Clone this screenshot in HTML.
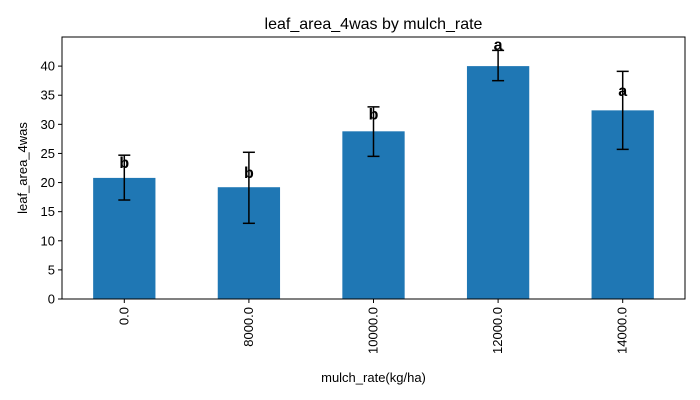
<!DOCTYPE html>
<html><head><meta charset="utf-8"><style>
body{margin:0;background:#fff;}
svg{display:block;font-family:"Liberation Sans","DejaVu Sans",sans-serif;}
</style></head><body>
<svg id="chart" width="700" height="400"></svg>
<script>
const categories=["0.0","8000.0","10000.0","12000.0","14000.0"];
const means=[20.8,19.2,28.8,40.0,32.4];
const errLow=[17.0,13.0,24.5,37.5,25.7];
const errHigh=[24.7,25.2,33.0,42.7,39.1];
const letters=["b","b","b","a","a"];
const letterPos=[23.5,21.8,31.9,43.8,35.9];
const yTicks=[0,5,10,15,20,25,30,35,40];
const L=62,R=685,T=37,B=299,yMax=45;
const NS="http://www.w3.org/2000/svg";
const svg=document.getElementById('chart');
const xs=i=>L+(i+0.5)*(R-L)/categories.length;
const ys=v=>B-v*(B-T)/yMax;
function mk(tag,attrs,text){const e=document.createElementNS(NS,tag);for(const k in attrs)e.setAttribute(k,attrs[k]);if(text!==undefined)e.textContent=text;svg.appendChild(e);return e;}
const bw=(R-L)/categories.length*0.5;
categories.forEach((c,i)=>{
 const b=mk('rect',{x:xs(i)-bw/2,y:ys(means[i]),width:bw,height:B-ys(means[i]),fill:'#1f77b4'});
 
 
 const g=mk('g',{stroke:'#000','stroke-width':1.5});
 
 
 [[xs(i),ys(errLow[i]),xs(i),ys(errHigh[i])],[xs(i)-6,ys(errLow[i]),xs(i)+6,ys(errLow[i])],[xs(i)-6,ys(errHigh[i]),xs(i)+6,ys(errHigh[i])]].forEach(p=>{
  const l=document.createElementNS(NS,'line');l.setAttribute('x1',p[0]);l.setAttribute('y1',p[1]);l.setAttribute('x2',p[2]);l.setAttribute('y2',p[3]);g.appendChild(l);});
 const t=mk('text',{x:xs(i),y:ys(letterPos[i])+6,'text-anchor':'middle','font-size':16,'font-weight':'bold'},letters[i]);
 
 
 mk('line',{x1:xs(i),y1:B,x2:xs(i),y2:B+4,stroke:'#000'});
 const xl=mk('text',{transform:`translate(${xs(i)+4},${B+8}) rotate(-90)`,'text-anchor':'end','font-size':13},c);
 
 
});
yTicks.forEach(v=>{
 mk('line',{x1:L-4,y1:ys(v),x2:L,y2:ys(v),stroke:'#000'});
 const t=mk('text',{x:L-7,y:ys(v)+4.5,'text-anchor':'end','font-size':13},v);
 
 
});
const fr=mk('rect',{x:L,y:T,width:R-L,height:B-T,fill:'none',stroke:'#000','stroke-width':1});


const ti=mk('text',{x:(L+R)/2,y:29,'text-anchor':'middle','font-size':16},'leaf_area_4was by mulch_rate');


const xt=mk('text',{x:(L+R)/2,y:382,'text-anchor':'middle','font-size':13},'mulch_rate(kg/ha)');


const yt=mk('text',{transform:`translate(27,${(T+B)/2}) rotate(-90)`,'text-anchor':'middle','font-size':13},'leaf_area_4was');


</script>
</body></html>
